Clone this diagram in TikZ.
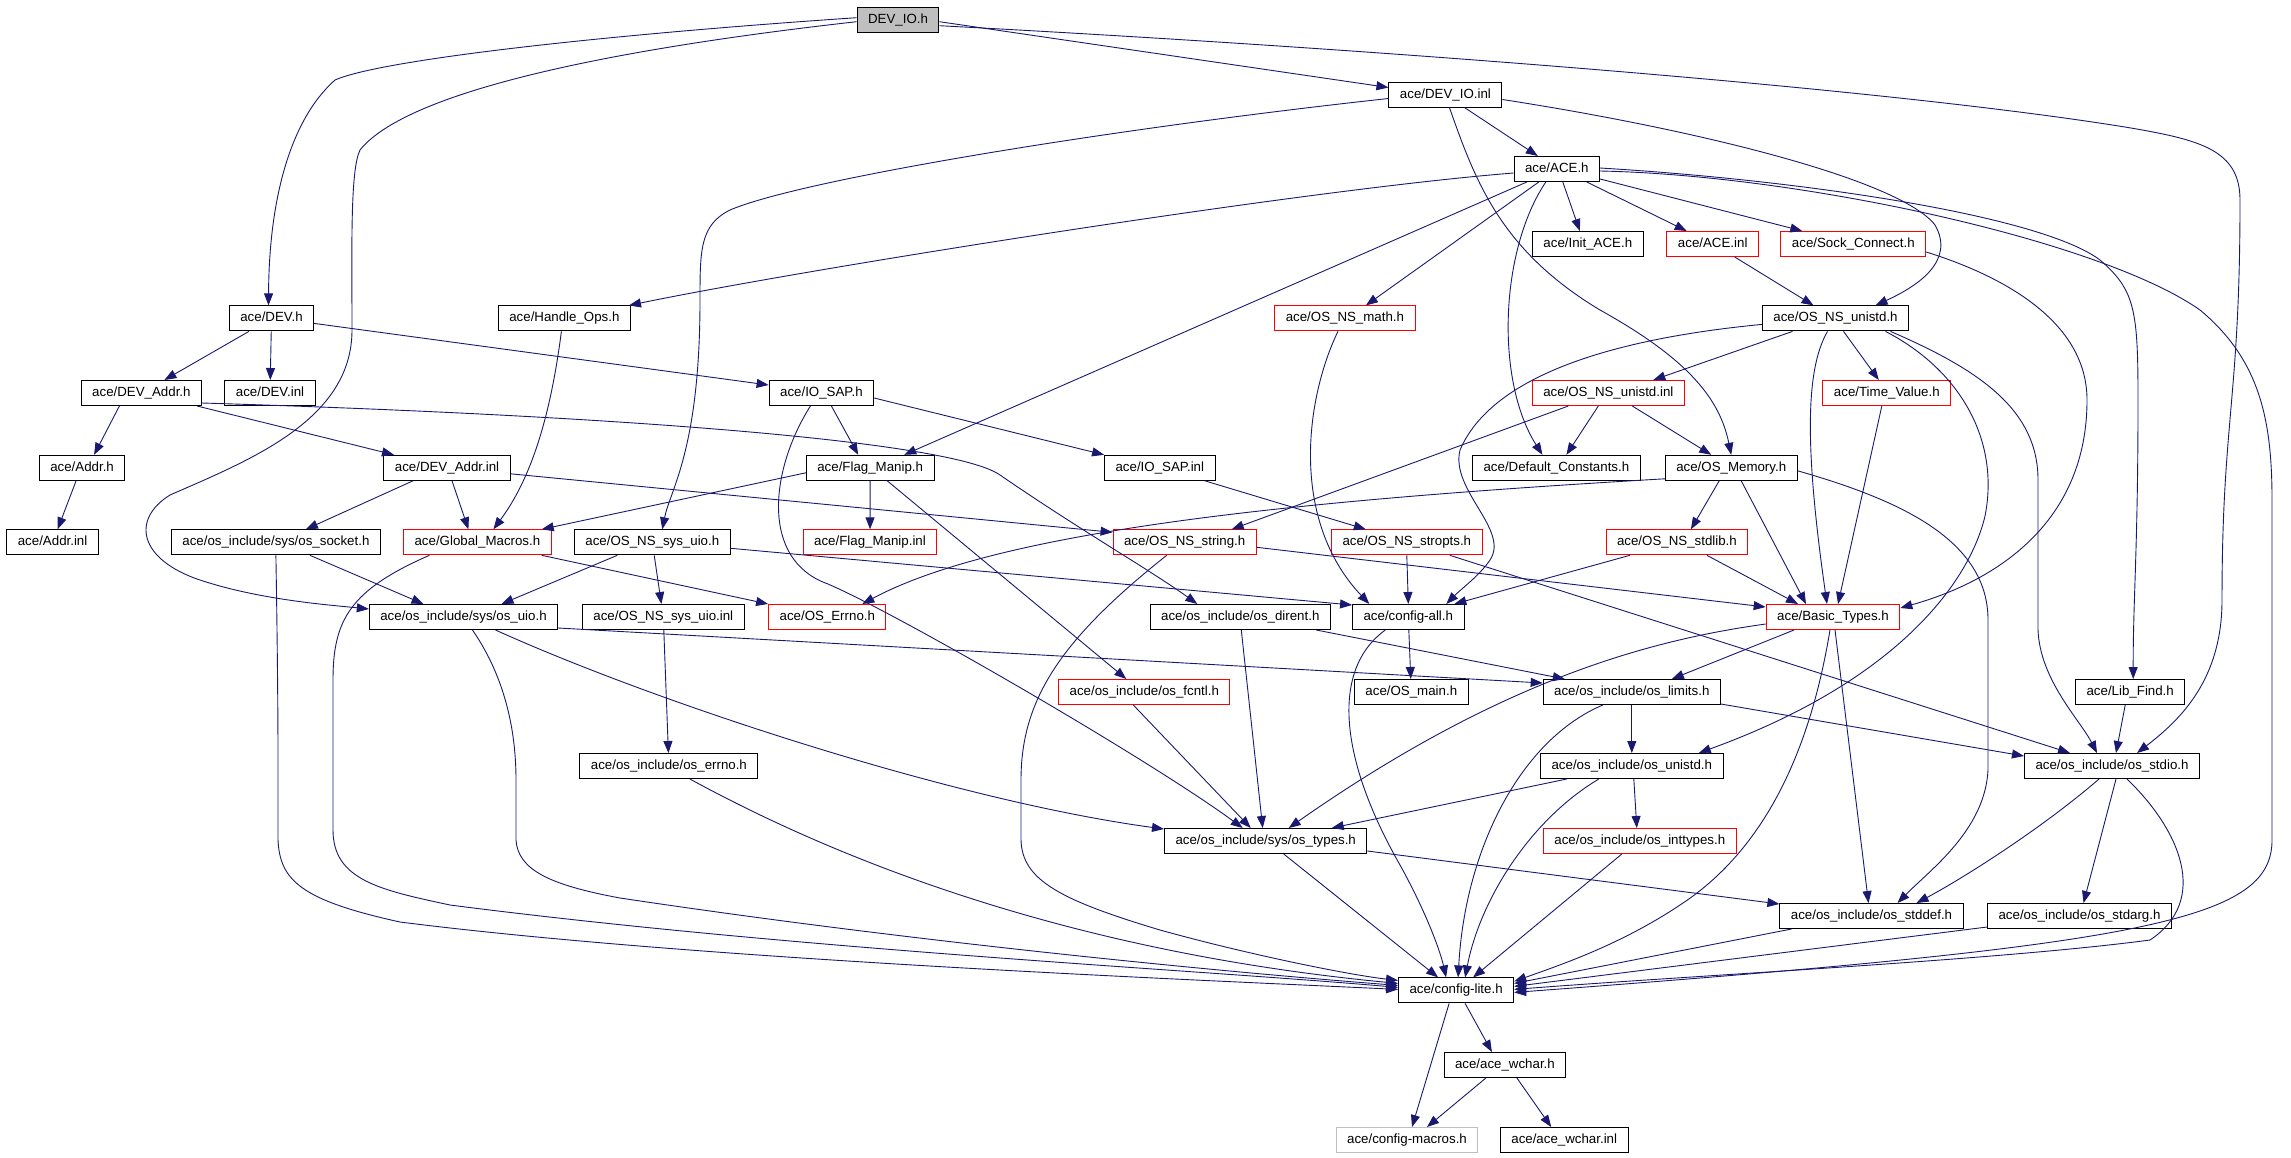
\documentclass[tikz,border=0pt]{standalone}
\usepackage{fontspec}
\setmainfont{Liberation Sans}
\usepackage{tikz}
\usetikzlibrary{arrows.meta}
\definecolor{edgeblue}{HTML}{191970}
\definecolor{boxgray}{HTML}{BFBFBF}

\begin{document}
\begin{tikzpicture}[x=1pt, y=-1pt,
    file/.style={draw=black, line width=1pt, minimum height=25pt, inner xsep=11pt, inner ysep=0pt,
        text height=10pt, text depth=3pt, font=\fontsize{13.3}{15}\selectfont},
    trunc/.style={file, draw=red},
    dep/.style={draw=edgeblue, line width=0.9pt, -{Triangle[length=12pt,width=9pt]}}]
    \useasboundingbox (0,0) rectangle (2291,1157);

    \node[file, fill=boxgray] (devio) at (898,19.7) {DEV\_IO.h};
    \node[file] (devioinl) at (1445.4,94.5) {ace/DEV\_IO.inl};
    \node[file] (acemain) at (1556.8,169) {ace/ACE.h};
    \node[file] (initace) at (1587.8,244) {ace/Init\_ACE.h};
    \node[trunc] (aceinl) at (1712.7,244) {ace/ACE.inl};
    \node[trunc] (sockconn) at (1853.3,244) {ace/Sock\_Connect.h};
    \node[file] (dev) at (271.5,318.4) {ace/DEV.h};
    \node[file] (handleops) at (564.4,318.4) {ace/Handle\_Ops.h};
    \node[trunc] (nsmath) at (1344.9,318.4) {ace/OS\_NS\_math.h};
    \node[file] (nsunistd) at (1835.5,318.4) {ace/OS\_NS\_unistd.h};
    \node[file] (devaddr) at (141.4,393) {ace/DEV\_Addr.h};
    \node[file] (devinl) at (270,393) {ace/DEV.inl};
    \node[file] (iosap) at (821.4,393) {ace/IO\_SAP.h};
    \node[trunc] (nsunistdinl) at (1608.3,393) {ace/OS\_NS\_unistd.inl};
    \node[trunc] (timevalue) at (1886.8,393) {ace/Time\_Value.h};
    \node[file] (addr) at (82.1,467.8) {ace/Addr.h};
    \node[file] (devaddrinl) at (447,467.8) {ace/DEV\_Addr.inl};
    \node[file] (flagmanip) at (870.2,467.8) {ace/Flag\_Manip.h};
    \node[file] (iosapinl) at (1159.8,467.8) {ace/IO\_SAP.inl};
    \node[file] (defconst) at (1556.4,467.8) {ace/Default\_Constants.h};
    \node[file] (osmemory) at (1731.2,467.8) {ace/OS\_Memory.h};
    \node[file] (addrinl) at (52.6,542.3) {ace/Addr.inl};
    \node[file] (ossocket) at (275.9,542.3) {ace/os\_include/sys/os\_socket.h};
    \node[trunc] (globalmacros) at (477.4,542.3) {ace/Global\_Macros.h};
    \node[file] (nssysuio) at (652.3,542.3) {ace/OS\_NS\_sys\_uio.h};
    \node[trunc] (flagmanipinl) at (870,542.3) {ace/Flag\_Manip.inl};
    \node[trunc] (nsstring) at (1184.7,542.3) {ace/OS\_NS\_string.h};
    \node[trunc] (nsstropts) at (1406.8,542.3) {ace/OS\_NS\_stropts.h};
    \node[trunc] (nsstdlib) at (1676.9,542.3) {ace/OS\_NS\_stdlib.h};
    \node[file] (osuio) at (463.5,617) {ace/os\_include/sys/os\_uio.h};
    \node[file] (nssysuioinl) at (663.3,617) {ace/OS\_NS\_sys\_uio.inl};
    \node[trunc] (oserrnoh) at (827.3,617) {ace/OS\_Errno.h};
    \node[file] (osdirent) at (1240.3,617) {ace/os\_include/os\_dirent.h};
    \node[file] (configall) at (1408.3,617) {ace/config-all.h};
    \node[trunc] (basictypes) at (1833,617) {ace/Basic\_Types.h};
    \node[trunc] (osfcntl) at (1144.3,692) {ace/os\_include/os\_fcntl.h};
    \node[file] (osmain) at (1411.3,692) {ace/OS\_main.h};
    \node[file] (oslimits) at (1631.8,692) {ace/os\_include/os\_limits.h};
    \node[file] (libfind) at (2130.2,692) {ace/Lib\_Find.h};
    \node[file] (oserrno) at (668.9,766) {ace/os\_include/os\_errno.h};
    \node[file] (osunistd) at (1631.8,766) {ace/os\_include/os\_unistd.h};
    \node[file] (osstdio) at (2112,766) {ace/os\_include/os\_stdio.h};
    \node[file] (ostypes) at (1265.7,841) {ace/os\_include/sys/os\_types.h};
    \node[trunc] (osinttypes) at (1639.8,841) {ace/os\_include/os\_inttypes.h};
    \node[file] (osstddef) at (1871.5,916) {ace/os\_include/os\_stddef.h};
    \node[file] (osstdarg) at (2079.5,916) {ace/os\_include/os\_stdarg.h};
    \node[file] (configlite) at (1456.1,990.4) {ace/config-lite.h};
    \node[file] (acewchar) at (1504.9,1065) {ace/ace\_wchar.h};
    \node[file, draw=boxgray] (configmacros) at (1407,1140) {ace/config-macros.h};
    \node[file] (acewcharinl) at (1564.2,1140) {ace/ace\_wchar.inl};

    \draw[dep] ([yshift=2pt]devio.west) .. controls (600,35) and (380,60) .. (335,80) .. controls (290,120) and (269,200) .. ([xshift=-3pt]dev.north);
    \draw[dep] ([yshift=-2pt]devio.west) .. controls (560,55) and (400,100) .. (360,150) .. controls (350,170) and (352,250) .. (352,330) .. controls (352,420) and (250,460) .. (170,495) .. controls (130,520) and (140,560) .. (200,580) .. controls (260,600) and (330,605) .. ([yshift=8pt]osuio.west);
    \draw[dep] ([yshift=-2pt]devio.east) -- ([yshift=7pt]devioinl.west);
    \draw[dep] ([yshift=-6pt]devio.east) .. controls (1400,50) and (1900,90) .. (2131,128) .. controls (2200,140) and (2240,150) .. (2240,200) .. controls (2240,400) and (2222,420) .. (2222,600) .. controls (2222,680) and (2180,720) .. ([xshift=25pt]osstdio.north);

    \draw[dep] ([xshift=19pt]devioinl.south) -- ([xshift=-19pt]acemain.north);
    \draw[dep] ([yshift=-4pt]devioinl.west) .. controls (1100,130) and (800,180) .. (730,210) .. controls (700,225) and (700,250) .. (700,300) .. controls (700,450) and (670,490) .. ([xshift=10pt]nssysuio.north);
    \draw[dep] ([xshift=4pt]devioinl.south) .. controls (1475,180) and (1500,250) .. (1600,310) .. controls (1690,360) and (1720,400) .. (osmemory.north);
    \draw[dep] ([yshift=-5pt]devioinl.east) .. controls (1700,130) and (1900,180) .. (1935,225) .. controls (1955,260) and (1920,285) .. ([xshift=40pt]nsunistd.north);

    \draw[dep] ([xshift=6pt]acemain.south) -- ([xshift=-8pt]initace.north);
    \draw[dep] ([xshift=30pt]acemain.south) -- ([xshift=-26pt]aceinl.north);
    \draw[dep] ([yshift=-10pt]acemain.east) -- ([xshift=-51pt]sockconn.north);
    \draw[dep] ([yshift=-4pt]acemain.west) .. controls (1300,190) and (800,270) .. ([xshift=-2pt]handleops.north east);
    \draw[dep] ([xshift=-30pt]acemain.south) -- ([xshift=34pt]flagmanip.north);
    \draw[dep] ([xshift=-18pt]acemain.south) -- ([xshift=21pt]nsmath.north);
    \draw[dep] ([xshift=-11pt]acemain.south) .. controls (1500,250) and (1495,380) .. ([xshift=-14pt]defconst.north);
    \draw[dep] ([yshift=1pt]acemain.east) .. controls (1800,180) and (2040,215) .. (2100,260) .. controls (2135,290) and (2138,310) .. (2138,400) .. controls (2138,550) and (2133,600) .. ([xshift=3pt]libfind.north);
    \draw[dep] ([yshift=-2pt]acemain.east) .. controls (1800,175) and (2100,240) .. (2200,310) .. controls (2260,360) and (2272,420) .. (2272,500) -- (2272,840) .. controls (2272,920) and (2150,945) .. ([yshift=-2pt]configlite.east);

    \draw[dep] ([yshift=-8pt]sockconn.east) .. controls (2000,275) and (2087,320) .. (2087,400) .. controls (2087,520) and (2000,580) .. ([yshift=9pt]basictypes.east);
    \draw[dep] ([xshift=22pt]aceinl.south) -- ([xshift=-22pt]nsunistd.north);

    \draw[dep] ([xshift=-43pt]nsunistd.south) -- ([xshift=45pt]nsunistdinl.north);
    \draw[dep] ([yshift=-6pt]nsunistd.west) .. controls (1600,340) and (1490,380) .. (1460,450) .. controls (1450,490) and (1510,530) .. (1490,560) .. controls (1480,575) and (1460,590) .. ([xshift=38pt]configall.north);
    \draw[dep] ([xshift=8pt]nsunistd.south) -- ([xshift=-8pt]timevalue.north);
    \draw[dep] ([xshift=-8pt]nsunistd.south) .. controls (1805,370) and (1805,450) .. ([xshift=-6pt]basictypes.north);
    \draw[dep] ([xshift=55pt]nsunistd.south) .. controls (1980,370) and (2038,410) .. (2038,480) -- (2038,630) .. controls (2040,680) and (2080,720) .. ([xshift=-15pt]osstdio.north);
    \draw[dep] ([xshift=50pt]nsunistd.south) .. controls (1960,370) and (2000,440) .. (1985,516) .. controls (1970,580) and (1900,680) .. ([xshift=67pt]osunistd.north);
    \draw[dep] ([xshift=-5pt]timevalue.south) -- ([xshift=5pt]basictypes.north);

    \draw[dep] ([xshift=-10pt]nsunistdinl.south) -- ([xshift=10pt]defconst.north);
    \draw[dep] ([xshift=24pt]nsunistdinl.south) -- ([xshift=-20pt]osmemory.north);
    \draw[dep] ([xshift=-40pt]nsunistdinl.south) -- ([xshift=47pt]nsstring.north);

    \draw[dep] ([xshift=-12pt]osmemory.south) -- ([xshift=14pt]nsstdlib.north);
    \draw[dep] ([xshift=10pt]osmemory.south) -- ([xshift=-27pt]basictypes.north);
    \draw[dep] ([yshift=-3pt]osmemory.east) .. controls (1900,500) and (1988,540) .. (1988,620) -- (1988,770) .. controls (1985,830) and (1930,870) .. ([xshift=26pt]osstddef.north);
    \draw[dep] ([yshift=-11pt]osmemory.west) .. controls (1300,500) and (1000,530) .. ([xshift=35pt]oserrnoh.north);

    \draw[dep] ([xshift=30pt]nsstdlib.south) -- ([xshift=-35pt]basictypes.north);
    \draw[dep] ([xshift=-47pt]nsstdlib.south) -- ([xshift=46pt]configall.north);
    \draw[dep] ([yshift=-5pt]nsstring.east) -- ([yshift=10pt]basictypes.west);
    \draw[dep] ([xshift=-18pt]nsstring.south) .. controls (1060,640) and (1021,700) .. (1021,780) -- (1021,840) .. controls (1022,880) and (1060,900) .. (1160,930) .. controls (1250,955) and (1350,975) .. ([yshift=10pt]configlite.west);
    \draw[dep] (nsstropts.south) -- (configall.north);
    \draw[dep] ([xshift=43pt]nsstropts.south) -- ([xshift=-42pt]osstdio.north);
    \draw[dep] ([xshift=-7pt]nsmath.south) .. controls (1305,400) and (1290,520) .. ([xshift=-39pt]configall.north);

    \draw[dep] (dev) -- ([xshift=23pt]devaddr.north);
    \draw[dep] (dev) -- (devinl);
    \draw[dep] ([yshift=-5pt]dev.east) -- ([yshift=8pt]iosap.west);
    \draw[dep] ([xshift=-22pt]devaddr.south) -- ([xshift=12pt]addr.north);
    \draw[dep] ([xshift=-5pt]devaddr.south east) -- ([xshift=-53pt]devaddrinl.north);
    \draw[dep] ([yshift=-10pt]devaddr.east) .. controls (600,415) and (950,440) .. (1000,475) .. controls (1080,530) and (1150,570) .. ([xshift=-43pt]osdirent.north);
    \draw[dep] ([xshift=-6pt]addr.south) -- ([xshift=5pt]addrinl.north);
    \draw[dep] ([xshift=-34pt]devaddrinl.south) -- ([xshift=30pt]ossocket.north);
    \draw[dep] ([xshift=5pt]devaddrinl.south) -- ([xshift=-9pt]globalmacros.north);
    \draw[dep] ([yshift=-6pt]devaddrinl.east) -- ([yshift=10pt]nsstring.west);
    \draw[dep] ([xshift=-3pt]handleops.south) .. controls (550,420) and (530,480) .. ([xshift=16pt]globalmacros.north);

    \draw[dep] ([xshift=10pt]iosap.south) -- ([xshift=-12pt]flagmanip.north);
    \draw[dep] ([yshift=-5pt]iosap.east) -- (iosapinl.north west);
    \draw[dep] ([xshift=-11pt]iosap.south) .. controls (770,470) and (760,560) .. (828,584) .. controls (900,615) and (1150,760) .. ([xshift=-23pt]ostypes.north);
    \draw[dep] ([yshift=-5pt]flagmanip.west) -- ([xshift=-10pt]globalmacros.north east);
    \draw[dep] (flagmanip) -- (flagmanipinl);
    \draw[dep] ([xshift=17pt]flagmanip.south) -- ([xshift=-18pt]osfcntl.north);
    \draw[dep] ([xshift=45pt]iosapinl.south) -- ([xshift=-41pt]nsstropts.north);

    \draw[dep] ([xshift=-10pt]globalmacros.south east) -- (oserrnoh.north west);
    \draw[dep] ([xshift=-48pt]globalmacros.south) .. controls (350,590) and (333,620) .. (333,680) -- (333,830) .. controls (333,880) and (380,890) .. (450,905) .. controls (800,950) and (1200,970) .. ([yshift=3pt]configlite.west);
    \draw[dep] ([xshift=34pt]ossocket.south) -- ([xshift=-40pt]osuio.north);
    \draw[dep] (ossocket.south) .. controls (277,620) and (278,700) .. (278,760) -- (278,840) .. controls (280,880) and (300,900) .. (400,922) .. controls (700,960) and (1200,980) .. ([yshift=1pt]configlite.west);
    \draw[dep] ([xshift=-35pt]nssysuio.south) -- ([xshift=38pt]osuio.north);
    \draw[dep] (nssysuio) -- (nssysuioinl);
    \draw[dep] ([yshift=-6pt]nssysuio.east) -- ([yshift=12pt]configall.west);
    \draw[dep] (nssysuioinl) -- (oserrno);

    \draw[dep] ([yshift=-11pt]osuio.east) -- ([yshift=9pt]oslimits.west);
    \draw[dep] ([xshift=32pt]osuio.south) .. controls (650,700) and (950,800) .. ([yshift=12pt]ostypes.west);
    \draw[dep] ([xshift=9pt]osuio.south) .. controls (500,670) and (516,720) .. (516,780) -- (516,840) .. controls (518,870) and (550,885) .. (620,898) .. controls (900,940) and (1200,970) .. ([yshift=5pt]configlite.west);
    \draw[dep] ([xshift=21pt]oserrno.south) .. controls (820,850) and (1050,950) .. ([yshift=7pt]configlite.west);

    \draw[dep] ([xshift=76pt]osdirent.south) -- ([xshift=-67pt]oslimits.north);
    \draw[dep] ([xshift=1pt]osdirent.south) -- ([xshift=-3pt]ostypes.north);
    \draw[dep] (configall) -- (osmain);
    \draw[dep] ([xshift=-23pt]configall.south) .. controls (1330,670) and (1340,760) .. (1400,865) .. controls (1425,910) and (1440,950) .. ([xshift=-10pt]configlite.north);
    \draw[dep] ([yshift=-7pt]basictypes.west) .. controls (1650,640) and (1500,680) .. ([xshift=23pt]ostypes.north);
    \draw[dep] ([xshift=-39pt]basictypes.south) -- ([xshift=40pt]oslimits.north);
    \draw[dep] ([xshift=-3pt]basictypes.south) .. controls (1815,720) and (1780,840) .. (1680,905) .. controls (1620,945) and (1560,965) .. ([yshift=9pt]configlite.east);
    \draw[dep] ([xshift=2pt]basictypes.south) -- ([xshift=-3pt]osstddef.north);
    \draw[dep] ([xshift=-11pt]osfcntl.south) -- ([xshift=-15pt]ostypes.north);

    \draw[dep] (oslimits) -- (osunistd);
    \draw[dep] ([yshift=-12pt]oslimits.east) -- ([yshift=10pt]osstdio.west);
    \draw[dep] ([xshift=-29pt]oslimits.south) .. controls (1520,740) and (1465,850) .. ([xshift=2pt]configlite.north);
    \draw[dep] ([xshift=-5pt]libfind.south) -- ([xshift=4pt]osstdio.north);
    \draw[dep] ([xshift=-65pt]osunistd.south) -- ([xshift=66pt]ostypes.north);
    \draw[dep] ([xshift=2pt]osunistd.south) -- ([xshift=-3pt]osinttypes.north);
    \draw[dep] ([xshift=-33pt]osunistd.south) .. controls (1530,820) and (1480,900) .. ([xshift=9pt]configlite.north);

    \draw[dep] ([xshift=-13pt]osstdio.south) .. controls (2040,830) and (1960,880) .. ([xshift=45pt]osstddef.north);
    \draw[dep] ([xshift=4pt]osstdio.south) -- ([xshift=4pt]osstdarg.north);
    \draw[dep] ([xshift=15pt]osstdio.south) .. controls (2180,830) and (2210,900) .. (2150,940) .. controls (2000,960) and (1700,975) .. ([yshift=1pt]configlite.east);
    \draw[dep] ([yshift=-10pt]ostypes.east) -- ([yshift=12pt]osstddef.west);
    \draw[dep] ([xshift=-18pt]osinttypes.south) -- ([xshift=17pt]configlite.north);
    \draw[dep] ([xshift=18pt]ostypes.south) -- ([xshift=-18pt]configlite.north);
    \draw[dep] ([xshift=-80pt]osstddef.south) -- ([yshift=7pt]configlite.east);
    \draw[dep] ([yshift=-11pt]osstdarg.west) -- ([yshift=4pt]configlite.east);

    \draw[dep] ([xshift=-7pt]configlite.south) -- ([xshift=5pt]configmacros.north);
    \draw[dep] ([xshift=9pt]configlite.south) -- ([xshift=-13pt]acewchar.north);
    \draw[dep] ([xshift=-19pt]acewchar.south) -- ([xshift=20pt]configmacros.north);
    \draw[dep] ([xshift=12pt]acewchar.south) -- ([xshift=-13pt]acewcharinl.north);
\end{tikzpicture}
\end{document}
